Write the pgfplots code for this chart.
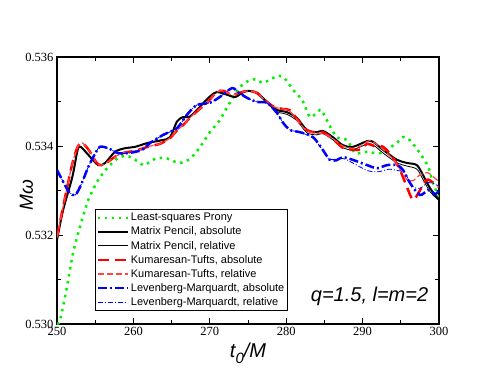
\documentclass[border=0pt]{standalone}
\usepackage{fontspec}
\setmainfont{Liberation Serif}
\newfontfamily\sfont{Liberation Sans}
\usepackage{pgfplots}
\pgfplotsset{compat=1.18}

\definecolor{xgreen}{RGB}{0,240,0}
\definecolor{salmon}{RGB}{255,70,70}

\begin{document}
\begin{tikzpicture}
\begin{axis}[
  at={(0,0)}, anchor=south west,
  scale only axis,
  width=382pt, height=267pt,
  xmin=250, xmax=300,
  ymin=0.530, ymax=0.536,
  xtick={250,260,...,300},
  ytick={0.530,0.532,0.534,0.536},
  minor x tick num=1,
  minor y tick num=1,
  tick align=inside,
  major tick length=6pt,
  minor tick length=4pt,
  every tick/.style={black, line width=0.9pt},
  axis line style={line width=1.2pt},
  /pgf/number format/assume math mode=true,
  yticklabel style={/pgf/number format/.cd, fixed, fixed zerofill, precision=3},
  ticklabel style={font=\fontsize{12.5}{12.5}\selectfont},
  scaled y ticks=false,
  xlabel={\sfont\itshape t\raisebox{-0.3em}{\fontsize{15}{15}\selectfont 0}/M},
  xlabel style={at={(axis description cs:0.5,0)}, anchor=base, yshift=-33pt, font=\fontsize{20}{20}\selectfont},
  ylabel={\sfont\itshape Mω},
  ylabel style={at={(axis description cs:-0.08,0.483)}, anchor=center, font=\fontsize{19}{19}\selectfont},
  legend cell align=left,
  legend style={at={(axis description cs:0.0995,0.431)}, anchor=north west,
    draw=black, line width=0.8pt, inner xsep=1pt, inner ysep=2pt,
    font=\sfont\fontsize{11}{12}\selectfont, row sep=0.6pt},
  legend image code/.code={\draw[#1] (0pt,0pt) -- (30pt,0pt);},
]
% Least-squares Prony
\addplot[xgreen, line width=2.5pt, dash pattern=on 2.5pt off 4.6pt, smooth, tension=0.4] coordinates {
(250,0.5300) (250.4,0.53009) (251.3,0.53083) (252.1,0.5316) (253,0.53218) (254.1,0.53279)
(255.4,0.53324) (256.7,0.53353) (258,0.53373) (259.0,0.53378) (259.9,0.53373) (261.3,0.53357)
(262.2,0.53365) (263.1,0.53373) (264.4,0.53372) (265.2,0.53366) (266.1,0.53362) (267.4,0.53371)
(268.7,0.53397) (270.0,0.53431) (271.3,0.53458) (272.6,0.53497) (274,0.53533) (275,0.53546)
(276.0,0.5355) (276.9,0.53542) (278.0,0.5355) (278.9,0.53558) (279.8,0.53552) (280.9,0.53526)
(282.1,0.53503) (283.1,0.53465) (284.0,0.53475) (284.6,0.53481) (285.5,0.53452) (286.6,0.5342)
(288,0.53413) (289,0.53384) (290.6,0.53387) (292.3,0.53384) (294.5,0.53407) (295.3,0.5342)
(296.2,0.53413) (297.5,0.53384) (298.6,0.53353) (299.2,0.53317) (300,0.53285)
};
\addlegendentry{Least-squares Prony}
% Matrix Pencil, absolute
\addplot[black, line width=2pt, smooth, tension=0.5] coordinates {
(250,0.53189) (250.8,0.53256) (252.0,0.5333) (252.7,0.53391) (253.1,0.53398) (254.1,0.5338)
(255.4,0.53357) (256.3,0.53362) (257.6,0.53387) (258.9,0.53395) (260.2,0.53398) (261.9,0.53407)
(263.7,0.53413) (264.8,0.5342) (265.7,0.53455) (266.5,0.53465) (267.4,0.53466) (268.7,0.53488)
(269.8,0.53508) (270.9,0.53521) (272.3,0.53515) (273.3,0.5351) (274.2,0.53519) (275.0,0.53524)
(276.2,0.53519) (277.5,0.53499) (278.8,0.53481) (280.1,0.53476) (281.4,0.53463) (282.7,0.53436)
(284.0,0.53431) (284.8,0.53434) (286.1,0.5342) (287.4,0.53402) (288.7,0.53398) (290.6,0.53411)
(291.4,0.53409) (292.7,0.53391) (294.5,0.53369) (295.8,0.53362) (297.1,0.53357) (297.9,0.53335)
(298.8,0.53306) (299.7,0.53285) (300,0.53280)
};
\addlegendentry{Matrix Pencil, absolute}
% Matrix Pencil, relative
\addplot[black, line width=0.8pt, smooth, tension=0.5] coordinates {
(250,0.53189) (250.8,0.53256) (252.0,0.5333) (252.7,0.53391) (253.1,0.53398) (254.1,0.5338)
(255.4,0.53357) (256.3,0.53362) (257.6,0.53387) (258.9,0.53395) (260.2,0.53398) (261.9,0.53407)
(263.7,0.53413) (264.8,0.5342) (265.7,0.53455) (266.5,0.53465) (267.4,0.53466) (268.7,0.53488)
(269.8,0.53508) (270.9,0.53521) (272.3,0.53515) (273.3,0.5351) (274.2,0.53519) (275.0,0.53524)
(276.2,0.53517) (277.5,0.53496) (278.8,0.53477) (280.1,0.53471) (281.4,0.53457) (282.7,0.5343)
(284.0,0.53425) (284.8,0.53428) (286.1,0.53414) (287.4,0.53396) (288.7,0.53392) (290.6,0.53404)
(291.4,0.53402) (292.7,0.53384) (294.5,0.53362) (295.8,0.53355) (297.1,0.53348) (297.9,0.53325)
(298.8,0.53298) (299.7,0.53282) (300,0.53278)
};
\addlegendentry{Matrix Pencil, relative}
% Kumaresan-Tufts, absolute
\addplot[red, line width=2.5pt, dash pattern=on 11pt off 6pt, smooth, tension=0.5] coordinates {
(250,0.53195) (251,0.5328) (252,0.5336) (252.7,0.53398) (253.3,0.53407) (254.2,0.5339)
(255.2,0.53362) (255.9,0.53357) (256.8,0.53366) (257.6,0.53376) (258.8,0.53385) (260.2,0.53389)
(261.5,0.53396) (262.2,0.53400) (263.5,0.53405) (264.8,0.53418) (265.7,0.53435) (266.5,0.53447)
(267.8,0.5347) (269.6,0.53497) (270.9,0.53521) (271.8,0.53524) (272.9,0.53515) (274.0,0.5352)
(275.0,0.53524) (276.2,0.53519) (277.2,0.53503) (278.4,0.53488) (279.6,0.53483) (280.5,0.5348)
(281.8,0.53452) (282.7,0.53436) (283.5,0.53431) (284.8,0.53431) (286.1,0.53416) (287.4,0.53396)
(288.5,0.53392) (289.7,0.53392) (290.6,0.53405) (291.5,0.534) (292.7,0.53398) (294.0,0.53373)
(294.9,0.53346) (295.8,0.53308) (296.6,0.53279) (297.5,0.5330) (298.4,0.53324) (299.2,0.53318)
(300,0.53308)
};
\addlegendentry{Kumaresan-Tufts, absolute}
% Kumaresan-Tufts, relative
\addplot[salmon, line width=1.2pt, dash pattern=on 6pt off 3pt, smooth, tension=0.5] coordinates {
(250,0.53195) (251,0.5328) (252,0.5336) (252.7,0.53398) (253.3,0.53407) (254.2,0.5339)
(255.2,0.53362) (255.9,0.53357) (256.8,0.53366) (257.6,0.53376) (258.8,0.53385) (260.2,0.53389)
(261.5,0.53396) (262.2,0.53400) (263.5,0.53405) (264.8,0.53418) (265.7,0.53435) (266.5,0.53447)
(267.8,0.5347) (269.6,0.53497) (270.9,0.53521) (271.8,0.53524) (272.9,0.53515) (274.0,0.5352)
(275.0,0.53524) (276.2,0.53519) (277.2,0.53503) (278.4,0.53488) (279.6,0.53483) (280.5,0.53478)
(281.8,0.53450) (282.7,0.53434) (283.5,0.53429) (284.8,0.53428) (286,0.53418) (287.4,0.534)
(288.8,0.53395) (290,0.53402) (291,0.53412) (292.5,0.53395) (294,0.5337) (295,0.53345)
(295.8,0.53325) (296.6,0.53322) (297.5,0.53335) (298.5,0.5334) (299.3,0.5333) (300,0.5332)
};
\addlegendentry{Kumaresan-Tufts, relative}
% Levenberg-Marquardt, absolute
\addplot[blue, line width=2.5pt, dash pattern=on 9pt off 3pt on 2pt off 3pt, smooth, tension=0.5] coordinates {
(250,0.53346) (250.8,0.5332) (251.6,0.53296) (252.4,0.5329) (253.2,0.53315) (254.1,0.53353)
(254.9,0.5338) (255.6,0.53398) (256.7,0.53395) (258,0.53384) (259.3,0.53384) (261.1,0.53391)
(262.2,0.53407) (263.9,0.53425) (265.7,0.5344) (267.0,0.5347) (268.3,0.53492) (270.0,0.53497)
(271.3,0.5351) (272.9,0.5353) (273.7,0.53521) (274.9,0.53508) (276.2,0.53499) (277.5,0.53497)
(278.8,0.53474) (279.6,0.53452) (280.5,0.53436) (281.8,0.53431) (283.5,0.5342) (284.8,0.53391)
(285.7,0.53369) (286.6,0.53368) (287.4,0.53375) (288.7,0.53369) (290.6,0.53357) (291.9,0.5335)
(293.2,0.53357) (294.5,0.53357) (295.3,0.53346) (296.2,0.53317) (297.5,0.5329) (298.6,0.53301)
(299.5,0.53292) (300,0.5330)
};
\addlegendentry{Levenberg-Marquardt, absolute}
% Levenberg-Marquardt, relative
\addplot[blue, line width=0.8pt, dash pattern=on 5pt off 2pt on 1pt off 2pt, smooth, tension=0.5] coordinates {
(250,0.53346) (250.8,0.5332) (251.6,0.53296) (252.4,0.5329) (253.2,0.53315) (254.1,0.53353)
(254.9,0.5338) (255.6,0.53398) (256.7,0.53395) (258,0.53384) (259.3,0.53384) (261.1,0.53391)
(262.2,0.53407) (263.9,0.53425) (265.7,0.5344) (267.0,0.5347) (268.3,0.53492) (270.0,0.53497)
(271.3,0.5351) (272.9,0.5353) (273.7,0.53521) (274.9,0.53508) (276.2,0.53499) (277.5,0.53497)
(278.8,0.53474) (279.6,0.53452) (280.5,0.53436) (281.8,0.53431) (283.5,0.53418) (284.8,0.5339)
(285.7,0.5337) (287.4,0.53372) (288.7,0.53362) (290.6,0.53345) (292,0.53342) (293.5,0.53348)
(294.5,0.53345) (295.5,0.5334) (296.5,0.5331) (297.5,0.53305) (298.6,0.53318) (300,0.5331)
};
\addlegendentry{Levenberg-Marquardt, relative}
\node[anchor=base east, font=\sfont\itshape\fontsize{20}{20}\selectfont]
  at (axis cs:299.05,0.5305) {q=1.5, l=m=2};
\end{axis}
\pgfresetboundingbox
\path[use as bounding box] (-57pt,-58pt) rectangle (437pt,324pt);
\end{tikzpicture}
\end{document}
